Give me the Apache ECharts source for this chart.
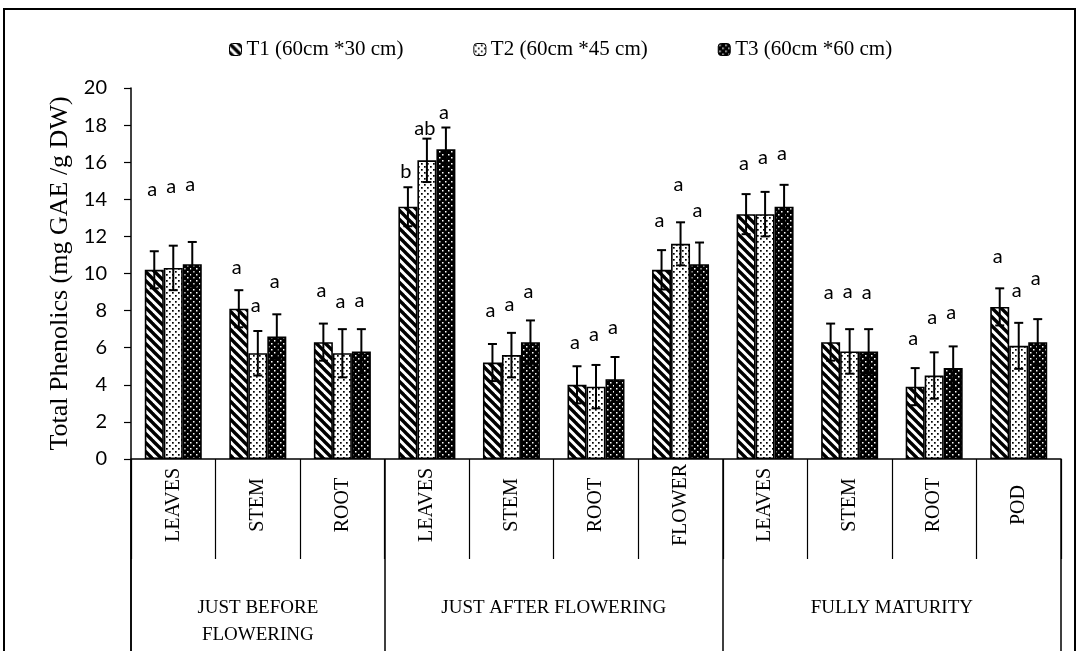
<!DOCTYPE html>
<html>
<head>
<meta charset="utf-8">
<script src="https://cdn.jsdelivr.net/npm/echarts@6/dist/echarts.min.js"></script>
<style>html,body{margin:0;padding:0;background:#fff}#c{width:1079px;height:651px}</style>
</head>
<body>
<div id="c"></div>
<script>
// ---- data ----
const categories = ['LEAVES','STEM','ROOT','LEAVES','STEM','ROOT','FLOWER','LEAVES','STEM','ROOT','POD'];
const groups = ['JUST BEFORE\nFLOWERING','JUST AFTER FLOWERING','FULLY MATURITY'];
const groupSizes = [3, 4, 4];
const seriesNames = ['T1 (60cm *30 cm)','T2 (60cm *45 cm)','T3 (60cm *60 cm)'];
const t1 = [10.2, 8.1, 6.3, 13.6, 5.2, 4.0, 10.2, 13.2, 6.3, 3.9, 8.2];
const t2 = [10.3, 5.7, 5.7, 16.1, 5.6, 3.9, 11.6, 13.2, 5.8, 4.5, 6.1];
const t3 = [10.5, 6.6, 5.8, 16.7, 6.3, 4.3, 10.5, 13.6, 5.8, 4.9, 6.3];
const e1 = [1.0, 1.0, 1.0, 1.05, 1.0, 1.0, 1.06, 1.08, 1.0, 1.0, 1.0];
const e2 = [1.2, 1.2, 1.3, 1.17, 1.2, 1.17, 1.16, 1.2, 1.2, 1.25, 1.24];
const e3 = [1.2, 1.2, 1.2, 1.17, 1.17, 1.2, 1.17, 1.18, 1.2, 1.17, 1.24];
const l1 = ['a','a','a','b','a','a','a','a','a','a','a'];
const l2 = ['a','a','a','ab','a','a','a','a','a','a','a'];
const l3 = ['a','a','a','a','a','a','a','a','a','a','a'];
const p1 = [14.5, 10.3, 9.1, 15.5, 8.0, 6.3, 12.85, 15.95, 9.0, 6.5, 10.9];
const p2 = [14.7, 8.25, 8.5, 17.8, 8.3, 6.7, 14.8, 16.25, 9.05, 7.6, 9.1];
const p3 = [14.8, 9.55, 8.55, 18.7, 9.05, 7.1, 13.4, 16.45, 9.0, 7.9, 9.75];
const yMin = 0, yMax = 20, yInterval = 2;

// ---- patterns ----
function makePattern(kind) {
  const c = document.createElement('canvas');
  const ctx = c.getContext('2d');
  if (kind === 'hatch') {
    c.width = 9; c.height = 9;
    ctx.fillStyle = '#fff'; ctx.fillRect(0, 0, 9, 9);
    ctx.strokeStyle = '#000'; ctx.lineWidth = 3.4;
    for (let k = -9; k <= 9; k += 9) {
      ctx.beginPath(); ctx.moveTo(k - 2, -2); ctx.lineTo(k + 11, 11); ctx.stroke();
    }
  } else if (kind === 'dots') {
    c.width = 6; c.height = 6;
    ctx.fillStyle = '#fff'; ctx.fillRect(0, 0, 6, 6);
    ctx.fillStyle = '#000';
    ctx.fillRect(1, 1, 1.7, 1.7); ctx.fillRect(4, 4, 1.7, 1.7);
  } else {
    c.width = 6; c.height = 6;
    ctx.fillStyle = '#000'; ctx.fillRect(0, 0, 6, 6);
    ctx.fillStyle = '#fff';
    ctx.fillRect(1, 1, 1.5, 1.5); ctx.fillRect(4, 4, 1.5, 1.5);
  }
  return { image: c, repeat: 'repeat' };
}
const fills = [makePattern('hatch'), makePattern('dots'), makePattern('dense')];

const vals = [t1, t2, t3], errs = [e1, e2, e3], lets = [l1, l2, l3], lpos = [p1, p2, p3];
const barW = 19;
const groupTicks = [0];
groupSizes.reduce((a, s) => { groupTicks.push(a + s); return a + s; }, 0);
const groupCenters = groupSizes.map((s, i) => groupTicks[i] + s / 2);

const serif = '"Liberation Serif", "Times New Roman", serif';
const sans = 'Lato, "Open Sans", sans-serif';

const series = [];
vals.forEach((v, s) => {
  series.push({
    name: seriesNames[s], type: 'bar', data: v, barWidth: barW, barGap: '0%',
    itemStyle: { color: fills[s], borderColor: '#000', borderWidth: 1.6 },
    z: 2
  });
});
vals.forEach((v, s) => {
  series.push({
    type: 'custom', xAxisIndex: 0, yAxisIndex: 0, z: 5, silent: true,
    data: v.map((val, i) => [i, val, errs[s][i]]),
    renderItem: function (params, api) {
      const i = api.value(0), val = api.value(1), e = api.value(2);
      const top = api.coord([i, val + e]);
      const bot = api.coord([i, val - e]);
      const x = top[0] + (s - 1) * barW;
      const cap = 4.5;
      const st = { stroke: '#000', lineWidth: 2 };
      return { type: 'group', children: [
        { type: 'line', shape: { x1: x, y1: top[1], x2: x, y2: bot[1] }, style: st },
        { type: 'line', shape: { x1: x - cap, y1: top[1], x2: x + cap, y2: top[1] }, style: st },
        { type: 'line', shape: { x1: x - cap, y1: bot[1], x2: x + cap, y2: bot[1] }, style: st }
      ] };
    }
  });
  series.push({
    type: 'custom', xAxisIndex: 0, yAxisIndex: 0, z: 6, silent: true,
    data: lpos[s].map((pv, i) => [i, pv]),
    renderItem: function (params, api) {
      const i = api.value(0), pv = api.value(1);
      const pt = api.coord([i, pv]);
      return { type: 'text', x: pt[0] + (s - 1) * barW - 2, y: pt[1],
        style: { text: lets[s][params.dataIndex], fill: '#000', font: '20px ' + sans,
          align: 'center', verticalAlign: 'middle' } };
    }
  });
});

const chart = echarts.init(document.getElementById('c'), null, { renderer: 'canvas' });
chart.setOption({
  backgroundColor: '#fff',
  animation: false,
  legend: {
    data: seriesNames, left: 224, top: 34, itemWidth: 12, itemHeight: 12, itemGap: 70,
    textStyle: { fontFamily: serif, fontSize: 21, color: '#000' },
    itemStyle: { borderColor: '#000', borderWidth: 1 }
  },
  grid: { left: 131, right: 18, top: 88, bottom: 192, containLabel: false },
  xAxis: [
    {
      type: 'category', data: categories, position: 'bottom',
      axisLine: { lineStyle: { color: '#000', width: 1.5 } },
      axisTick: { show: true, interval: 0, length: 100, alignWithLabel: false, lineStyle: { color: '#000', width: 1.2 } },
      axisLabel: { interval: 0, rotate: 90, align: 'center', verticalAlign: 'middle', margin: 46,
        fontFamily: serif, fontSize: 20, color: '#000' }
    },
    {
      type: 'value', min: 0, max: categories.length, position: 'bottom',
      axisLine: { show: false }, splitLine: { show: false },
      axisTick: { show: true, customValues: groupTicks, length: 192, lineStyle: { color: '#000', width: 1.5 } },
      axisLabel: { customValues: groupCenters, margin: 136, verticalAlign: 'top', lineHeight: 27,
        fontFamily: serif, fontSize: 19, color: '#000',
        formatter: function (v) { const k = groupCenters.indexOf(v); return k >= 0 ? groups[k] : ''; } }
    }
  ],
  yAxis: {
    type: 'value', min: yMin, max: yMax, interval: yInterval,
    name: 'Total Phenolics (mg GAE /g DW)', nameLocation: 'middle', nameGap: 53, nameRotate: 90,
    nameTextStyle: { fontFamily: serif, fontSize: 26, color: '#000' },
    axisLine: { show: true, lineStyle: { color: '#000', width: 1.5 } },
    axisTick: { show: true, length: 7, lineStyle: { color: '#000', width: 1.2 } },
    axisLabel: { margin: 24, fontFamily: sans, fontSize: 20, color: '#000' },
    splitLine: { show: false }
  },
  graphic: [
    { type: 'rect', shape: { x: 4, y: 9, width: 1071, height: 660 }, style: { fill: 'none', stroke: '#000', lineWidth: 2 }, silent: true },
    { type: 'line', shape: { x1: 131, y1: 459, x2: 131, y2: 651 }, style: { stroke: '#000', lineWidth: 1.5 }, silent: true }
  ],
  series: series
});
</script>
</body>
</html>
